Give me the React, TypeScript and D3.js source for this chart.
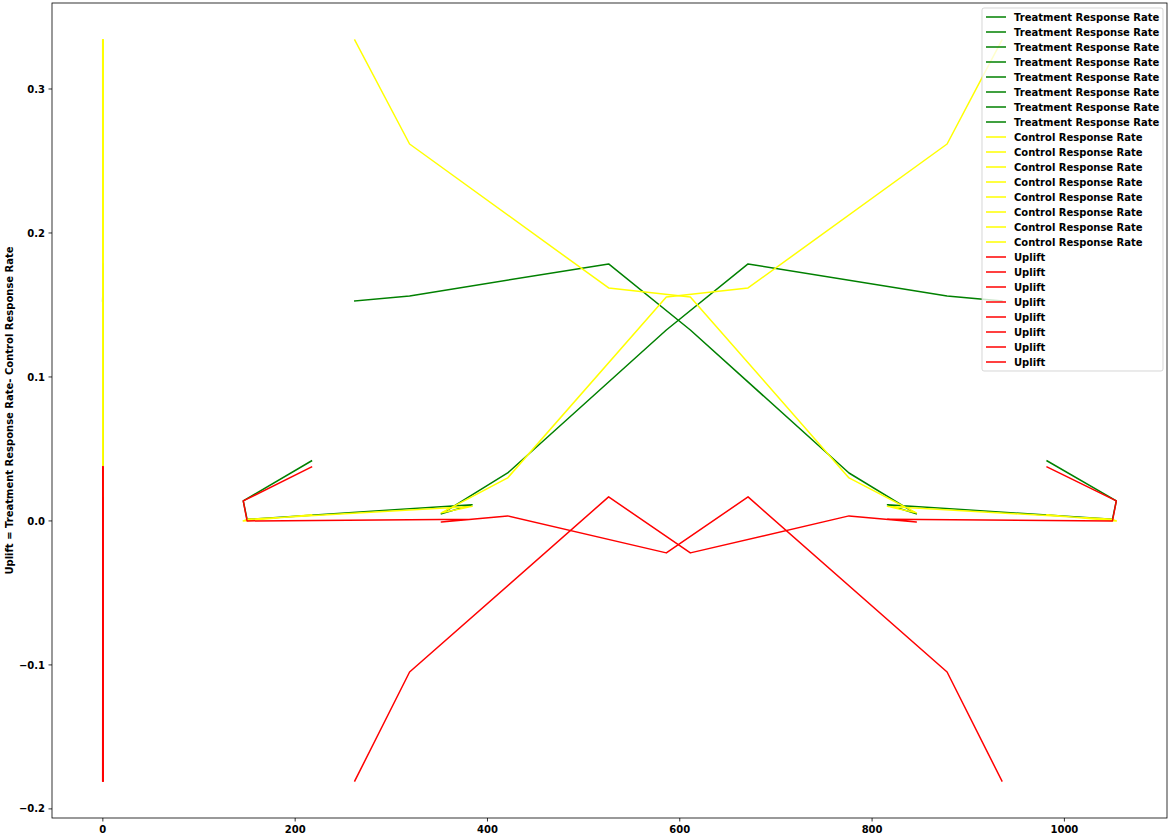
import React from 'react';
import * as d3 from 'd3';

// Rows (bins) of the frame that was plotted
const nTreatment = [262, 319, 526, 611, 776, 846, 816, 1050, 1054, 982];
const nControl = [935, 878, 671, 586, 421, 352, 384, 150, 146, 217];
const treatmentRate = [0.1528, 0.1563, 0.1785, 0.1326, 0.0333, 0.0049, 0.0113, 0.0011, 0.0139, 0.0417];
const controlRate = [0.334, 0.2618, 0.1618, 0.1556, 0.0299, 0.0056, 0.0101, 0.0011, 0.0, 0.0042];
const upliftValues = [-0.1806, -0.1049, 0.0167, -0.0222, 0.0035, -0.0007, 0.0012, 0.0, 0.0139, 0.0375];

const xColumns = [nTreatment, nControl, treatmentRate, controlRate, upliftValues];

const seriesLabels = ['Treatment Response Rate', 'Control Response Rate', 'Uplift'];
const seriesColors = ['green', 'yellow', 'red'];
const seriesValues = [treatmentRate, controlRate, upliftValues];
const legendRepeats = 8;

const xTicks = [0, 200, 400, 600, 800, 1000];
const yTicks = [-0.2, -0.1, 0.0, 0.1, 0.2, 0.3];

const W = 1172;
const H = 839;
const left = 52;
const right = 1167;
const top = 3;
const bottom = 818;
const FONT = 'DejaVu Sans, sans-serif';

export default function App() {
  const allX = xColumns.flat();
  const allY = seriesValues.flat();
  const [x0, x1] = d3.extent(allX) as [number, number];
  const [y0, y1] = d3.extent(allY) as [number, number];
  const px = (x1 - x0) * 0.05;
  const py = (y1 - y0) * 0.05;
  const xScale = d3.scaleLinear().domain([x0 - px, x1 + px]).range([left, right]);
  const yScale = d3.scaleLinear().domain([y0 - py, y1 + py]).range([bottom, top]);

  const lineGen = d3
    .line<[number, number]>()
    .x((d) => xScale(d[0]))
    .y((d) => yScale(d[1]));

  const paths: JSX.Element[] = [];
  seriesValues.forEach((ys, si) => {
    xColumns.forEach((xs, ci) => {
      const pts: [number, number][] = xs.map((xv, i) => [xv, ys[i]]);
      paths.push(
        <path
          key={`l-${si}-${ci}`}
          d={lineGen(pts) || ''}
          fill="none"
          stroke={seriesColors[si]}
          strokeWidth={1.5}
          strokeLinejoin="round"
          strokeLinecap="square"
        />
      );
    });
  });

  const legendItems: { label: string; color: string }[] = [];
  seriesLabels.forEach((lab, i) => {
    for (let k = 0; k < legendRepeats; k++) legendItems.push({ label: lab, color: seriesColors[i] });
  });

  const legX = 982;
  const legY = 8;
  const legW = 181;
  const rowH = 15;
  const legH = legendItems.length * rowH + 3;

  return (
    <svg
      width={W}
      height={H}
      style={{ position: 'absolute', left: 0, top: 0, background: '#fff' }}
      fontFamily={FONT}
    >
      <rect x={0} y={0} width={W} height={H} fill="#fff" />
      <defs>
        <clipPath id="plotclip">
          <rect x={left} y={top} width={right - left} height={bottom - top} />
        </clipPath>
      </defs>
      <g clipPath="url(#plotclip)">{paths}</g>

      {/* axes frame */}
      <rect x={left} y={top} width={right - left} height={bottom - top} fill="none" stroke="#000" strokeWidth={0.8} />

      {/* x ticks */}
      {xTicks.map((t) => (
        <g key={`xt-${t}`}>
          <line x1={xScale(t)} x2={xScale(t)} y1={bottom} y2={bottom + 3.5} stroke="#000" strokeWidth={0.8} />
          <text x={xScale(t)} y={bottom + 15} textAnchor="middle" fontSize={10} fontWeight="bold" fill="#000">
            {d3.format('d')(t)}
          </text>
        </g>
      ))}

      {/* y ticks */}
      {yTicks.map((t) => (
        <g key={`yt-${t}`}>
          <line x1={left - 3.5} x2={left} y1={yScale(t)} y2={yScale(t)} stroke="#000" strokeWidth={0.8} />
          <text x={left - 7} y={yScale(t) + 3.6} textAnchor="end" fontSize={10} fontWeight="bold" fill="#000">
            {d3.format('.1f')(t).replace('-', '\u2212')}
          </text>
        </g>
      ))}

      {/* y label */}
      <text
        transform={`translate(13, ${(top + bottom) / 2}) rotate(-90)`}
        textAnchor="middle"
        fontSize={10}
        fontWeight="bold"
        fill="#000"
      >
        Uplift = Treatment Response Rate- Control Response Rate
      </text>

      {/* legend */}
      <rect
        x={legX}
        y={legY}
        width={legW}
        height={legH}
        rx={2}
        fill="#fff"
        fillOpacity={0.8}
        stroke="#cccccc"
        strokeOpacity={0.8}
        strokeWidth={1}
      />
      {legendItems.map((it, i) => {
        const cy = legY + 9 + i * rowH;
        return (
          <g key={`lg-${i}`}>
            <line x1={legX + 4} x2={legX + 24} y1={cy} y2={cy} stroke={it.color} strokeWidth={1.5} />
            <text x={legX + 32} y={cy + 3.6} fontSize={10} fontWeight="bold" fill="#000">
              {it.label}
            </text>
          </g>
        );
      })}
    </svg>
  );
}
